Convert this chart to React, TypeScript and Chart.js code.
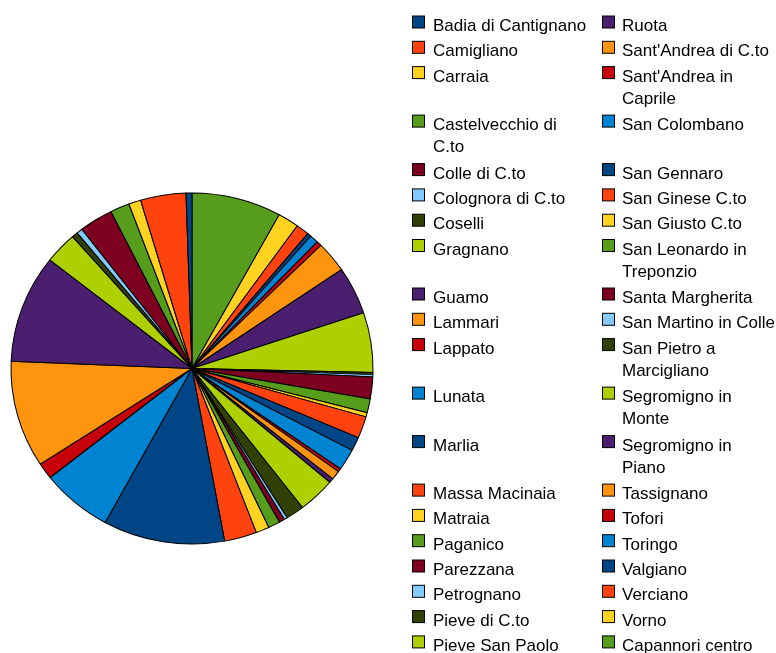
import React, { useEffect, useRef } from "react";
import { Chart, registerables } from "chart.js";

Chart.register(...registerables);

const categories: string[] = [
  "Badia di Cantignano",
  "Camigliano",
  "Carraia",
  "Castelvecchio di C.to",
  "Colle di C.to",
  "Colognora di C.to",
  "Coselli",
  "Gragnano",
  "Guamo",
  "Lammari",
  "Lappato",
  "Lunata",
  "Marlia",
  "Massa Macinaia",
  "Matraia",
  "Paganico",
  "Parezzana",
  "Petrognano",
  "Pieve di C.to",
  "Pieve San Paolo",
  "Ruota",
  "Sant'Andrea di C.to",
  "Sant'Andrea in Caprile",
  "San Colombano",
  "San Gennaro",
  "San Ginese C.to",
  "San Giusto C.to",
  "San Leonardo in Treponzio",
  "Santa Margherita",
  "San Martino in Colle",
  "San Pietro a Marcigliano",
  "Segromigno in Monte",
  "Segromigno in Piano",
  "Tassignano",
  "Tofori",
  "Toringo",
  "Valgiano",
  "Verciano",
  "Vorno",
  "Capannori centro",
];

// share of each frazione
const values: number[] = [
  1.9, 14.6, 3.9, 6.2, 10.9, 1.9, 1.9, 10.5, 35.8, 35.4,
  5.4, 22.9, 39.1, 10.4, 4.3, 3.8, 1.8, 1.0, 5.9, 12.0,
  1.4, 3.0, 1.1, 7.1, 4.6, 7.2, 1.4, 4.6, 7.2, 0.8,
  0.7, 19.8, 15.8, 10.3, 1.6, 2.8, 1.2, 4.2, 6.8, 28.8,
];

const palette: string[] = [
  "#004586", "#ff420e", "#ffd320", "#579d1c", "#7e0021", "#83caff",
  "#314004", "#aecf00", "#4b1f6f", "#ff950e", "#c5000b", "#0084d1",
];

const X_STRETCH = 181 / 175.5;
const LEGEND_FONT = '17px "Liberation Sans", Arial, sans-serif';

export default function App() {
  const ref = useRef<HTMLCanvasElement | null>(null);

  useEffect(() => {
    if (!ref.current) return;
    const colors = categories.map((_, i) => palette[i % palette.length]);
    // the reference runs counter-clockwise from 12 o'clock: feed Chart.js reversed
    const order = categories.map((_, i) => categories.length - 1 - i);

    const ellipsePlugin = {
      id: "ellipse",
      beforeDatasetsDraw(chart: any) {
        const arc = chart.getDatasetMeta(0).data[0];
        const ctx = chart.ctx;
        ctx.save();
        ctx.translate(arc.x, arc.y);
        ctx.scale(X_STRETCH, 1);
        ctx.translate(-arc.x, -arc.y);
      },
      afterDatasetsDraw(chart: any) {
        chart.ctx.restore();
      },
    };

    const wrap = (ctx: CanvasRenderingContext2D, text: string, maxW: number) => {
      const words = text.split(" ");
      const lines: string[] = [];
      let cur = "";
      for (const w of words) {
        const test = cur ? cur + " " + w : w;
        if (cur && ctx.measureText(test).width > maxW) {
          lines.push(cur);
          cur = w;
        } else cur = test;
      }
      if (cur) lines.push(cur);
      return lines;
    };

    const legendPlugin = {
      id: "sideLegend",
      afterDraw(chart: any) {
        const ctx: CanvasRenderingContext2D = chart.ctx;
        ctx.save();
        ctx.font = LEGEND_FONT;
        ctx.textBaseline = "alphabetic";
        ctx.textAlign = "left";
        const half = Math.ceil(categories.length / 2);
        const cols = [
          { sx: 412.5, tx: 433 },
          { sx: 602.5, tx: 622 },
        ];
        const maxW = 156;
        let baseline = 31;
        for (let r = 0; r < half; r++) {
          const idxs = [r, r + half].filter((i) => i < categories.length);
          const wrapped = idxs.map((i) => wrap(ctx, categories[i], maxW));
          const nLines = Math.max(...wrapped.map((l) => l.length));
          idxs.forEach((i, c) => {
            const col = cols[c];
            ctx.fillStyle = colors[i];
            ctx.fillRect(col.sx, baseline - 15, 12, 12);
            ctx.strokeStyle = "#000";
            ctx.lineWidth = 1;
            ctx.strokeRect(col.sx, baseline - 15, 12, 12);
            ctx.fillStyle = "#000";
            wrapped[c].forEach((line, k) => {
              ctx.fillText(line, col.tx, baseline + k * 22);
            });
          });
          baseline += 25.3 + (nLines - 1) * 23.2;
        }
        ctx.restore();
      },
    };

    const chart = new Chart(ref.current, {
      type: "pie",
      data: {
        labels: order.map((i) => categories[i]),
        datasets: [
          {
            data: order.map((i) => values[i]),
            backgroundColor: order.map((i) => colors[i]),
            borderColor: "#000",
            borderWidth: 1,
            hoverOffset: 0,
            clip: false,
          } as any,
        ],
      },
      options: {
        animation: false,
        responsive: false,
        devicePixelRatio: 1,
        events: [],
        layout: { padding: { left: 16, right: 408, top: 192.5, bottom: 108.5 } },
        plugins: {
          legend: { display: false },
          tooltip: { enabled: false },
        },
      },
      plugins: [ellipsePlugin, legendPlugin],
    });
    return () => chart.destroy();
  }, []);

  return (
    <div style={{ position: "absolute", left: 0, top: 0, width: 776, height: 653, background: "#fff" }}>
      <canvas ref={ref} width={776} height={653} style={{ display: "block" }} />
    </div>
  );
}
